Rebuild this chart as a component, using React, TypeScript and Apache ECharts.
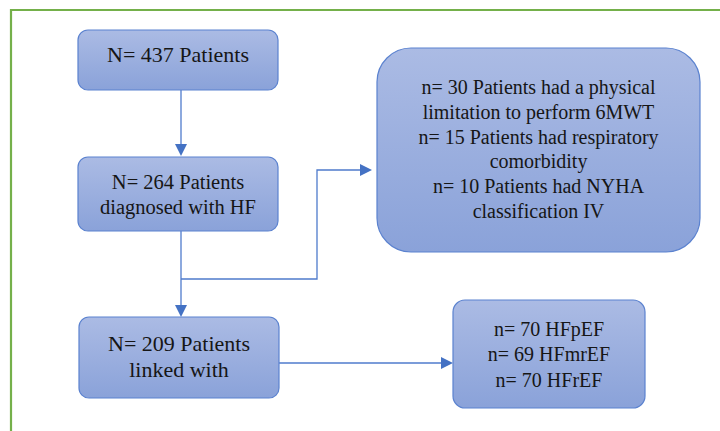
import React, { useEffect, useRef } from "react";
import * as echarts from "echarts";

// Flowchart content
const boxLabels: string[] = [
  "N= 437 Patients",
  "N= 264 Patients\ndiagnosed with HF",
  "n= 30 Patients had a physical\nlimitation to perform 6MWT\nn= 15 Patients had respiratory\ncomorbidity\nn= 10 Patients had NYHA\nclassification IV",
  "N= 209 Patients\nlinked with",
  "n= 70 HFpEF\nn= 69 HFmrEF\nn= 70 HFrEF",
];
// box layout: [x, y, w, h, radius, textCenterY, fontSize, lineHeight]
const boxGeom: number[][] = [
  [78, 30, 200, 60, 10, 54, 22, 26],
  [78, 157, 200, 74, 10, 194, 20.5, 25],
  [377, 48, 323, 204, 34, 149, 20, 24.8],
  [79, 317, 200, 81, 10, 356, 22, 26],
  [453, 300, 192, 108, 12, 354, 20, 25.5],
];

const LINE = "#4f7bcc";

export default function App() {
  const ref = useRef<HTMLDivElement>(null);
  useEffect(() => {
    if (!ref.current) return;
    const chart = echarts.init(ref.current, null, { renderer: "svg" });
    const fill = new echarts.graphic.LinearGradient(0, 0, 0, 1, [
      { offset: 0, color: "#abbbe4" },
      { offset: 1, color: "#8aa2d9" },
    ]);
    const els: any[] = [];
    // green frame
    els.push({
      type: "rect",
      shape: { x: 11, y: 10, width: 730, height: 440 },
      style: { fill: "none", stroke: "#74b04a", lineWidth: 2.2 },
    });
    const line = (pts: number[][]) => ({
      type: "polyline",
      shape: { points: pts },
      style: { fill: "none", stroke: LINE, lineWidth: 1.3 },
    });
    const arrowDown = (x: number, tip: number) => ({
      type: "polygon",
      shape: { points: [[x - 6, tip - 12], [x + 6, tip - 12], [x, tip]] },
      style: { fill: "#4472c4" },
    });
    const arrowRight = (tip: number, y: number) => ({
      type: "polygon",
      shape: { points: [[tip - 12, y - 6], [tip - 12, y + 6], [tip, y]] },
      style: { fill: "#4472c4" },
    });
    // connectors
    els.push(line([[181, 90], [181, 146]]));
    els.push(arrowDown(181, 156));
    els.push(line([[181, 231], [181, 307]]));
    els.push(arrowDown(181, 317));
    els.push(line([[181, 279], [317, 279], [317, 170], [362, 170]]));
    els.push(arrowRight(372, 170));
    els.push(line([[279, 363], [443, 363]]));
    els.push(arrowRight(453, 363));
    // boxes
    boxGeom.forEach((g, i) => {
      const [x, y, w, h, r, ty, fs, lh] = g;
      els.push({
        type: "rect",
        shape: { x, y, width: w, height: h, r },
        style: { fill, stroke: "#5b82cf", lineWidth: 1.2 },
      });
      els.push({
        type: "text",
        x: x + w / 2,
        y: ty,
        style: {
          text: boxLabels[i],
          align: "center",
          verticalAlign: "middle",
          fontFamily: "Liberation Serif",
          fontSize: fs,
          lineHeight: lh,
          fill: "#161616",
        },
      });
    });
    chart.setOption({ animation: false, graphic: { elements: els } });
    return () => chart.dispose();
  }, []);
  return (
    <div
      ref={ref}
      style={{ position: "fixed", left: 0, top: 0, width: 720, height: 431, background: "#ffffff" }}
    />
  );
}
